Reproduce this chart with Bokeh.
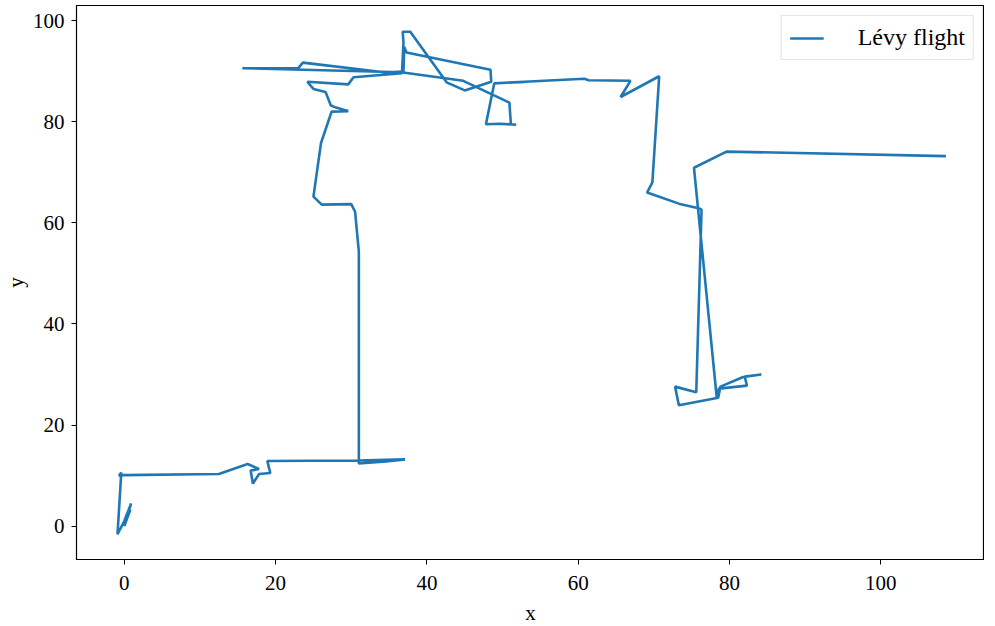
from bokeh.plotting import figure
from bokeh.models import Range1d, FixedTicker, Legend, LegendItem
from bokeh.embed import file_html
from bokeh.resources import INLINE

# Lévy flight path
path_x = [0.0, 0.8, 0.4, 0.9, 0.0, -0.9, -0.4, -0.7, -0.1, 12.5, 16.3, 17.8, 16.7, 17.0, 17.8, 19.3, 18.9,
          30.9, 37.1, 34.6, 31.0, 31.0, 30.5, 30.0, 26.1, 25.0, 26.0, 27.4, 29.6, 28.0, 27.3, 26.6, 25.0,
          24.2, 29.6, 30.3, 36.7, 36.9, 36.8, 37.8, 42.6, 45.0, 48.5, 48.4, 37.3, 37.0, 36.9, 34.9, 23.6,
          23.0, 15.6, 36.6, 44.8, 50.9, 51.1, 51.8, 49.6, 47.8, 48.9, 52.9, 60.8, 61.4, 66.9, 65.6, 70.7,
          69.8, 69.1, 73.3, 75.9, 76.3, 75.6, 72.8, 73.3, 78.5, 78.8, 81.8, 84.2, 82.0, 82.3, 78.6, 78.3,
          75.3, 79.6, 108.6]
path_y = [0.0, 3.3, 2.0, 4.5, 1.0, -1.6, 10.6, 10.0, 10.1, 10.3, 12.3, 11.3, 11.0, 8.4, 10.3, 10.5, 12.9,
          13.0, 13.2, 12.8, 12.4, 54.3, 62.2, 63.7, 63.6, 65.2, 75.8, 82.0, 82.1, 82.8, 83.2, 85.9, 86.5,
          87.9, 87.4, 88.8, 89.6, 95.6, 97.8, 97.8, 87.8, 86.2, 87.9, 90.3, 93.7, 94.8, 90.0, 89.7, 91.7,
          90.6, 90.6, 89.8, 88.1, 83.8, 79.5, 79.4, 79.6, 79.5, 87.6, 87.9, 88.5, 88.2, 88.1, 84.9, 89.0,
          68.0, 66.0, 63.8, 62.9, 62.6, 26.5, 27.6, 23.9, 25.4, 27.6, 29.5, 30.0, 29.6, 27.8, 27.2, 25.5,
          70.9, 74.1, 73.2]

x_ticks = [0, 20, 40, 60, 80, 100]
y_ticks = [0, 20, 40, 60, 80, 100]
series_label = "Lévy flight"

FONT = "Liberation Serif"

p = figure(width=984, height=627, output_backend="svg", toolbar_location=None,
           x_range=Range1d(-6.32, 113.7), y_range=Range1d(-6.6, 103.0),
           min_border_left=72, min_border_top=5, min_border_right=0, min_border_bottom=60)

r = p.line(path_x, path_y, line_color="#1f77b4", line_width=2.6)

p.xgrid.visible = False
p.ygrid.visible = False
p.outline_line_color = "black"
p.outline_line_width = 1.2
p.background_fill_color = "white"
p.border_fill_color = "white"

for ax, ticks, lab, tstand, lstand in ((p.xaxis, x_ticks, "x", 11, 8), (p.yaxis, y_ticks, "y", 7, 2)):
    ax.ticker = FixedTicker(ticks=ticks)
    ax.axis_label = lab
    ax.axis_label_text_font = FONT
    ax.axis_label_text_font_style = "normal"
    ax.axis_label_text_font_size = "21px"
    ax.axis_label_text_color = "black"
    ax.major_label_text_font = FONT
    ax.major_label_text_font_size = "21px"
    ax.major_label_text_color = "black"
    ax.major_tick_out = 5
    ax.major_tick_in = 0
    ax.minor_tick_out = 0
    ax.minor_tick_in = 0
    ax.axis_line_color = "black"
    ax.major_tick_line_color = "black"
    ax.major_label_standoff = tstand
    ax.axis_label_standoff = lstand

legend = Legend(items=[LegendItem(label=series_label, renderers=[r])], location="top_right")
legend.label_text_font = FONT
legend.label_text_font_size = "24px"
legend.label_text_color = "black"
legend.border_line_color = "#cccccc"
legend.border_line_width = 1
legend.padding = 8
legend.margin = 10
legend.glyph_width = 34
legend.label_standoff = 34
legend.spacing = 0
p.add_layout(legend)

open("out.html", "w").write(file_html(p, INLINE))
